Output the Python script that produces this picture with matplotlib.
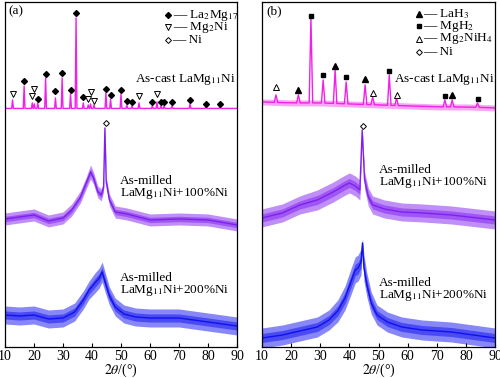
import numpy as np
import matplotlib
matplotlib.use("Agg")
import matplotlib.pyplot as plt

plt.rcParams['font.family'] = ['Liberation Serif', 'DejaVu Serif']
plt.rcParams['mathtext.fontset'] = 'stix'

# ---------------- data (intensity in arbitrary offset units) ----------------
# Panel (a) as-cast: peak positions and peak-top intensities
a_cast_base = 238.5
a_cast_pos = [12.6, 16.6, 19.4, 20.1, 21.3, 24.0, 27.4, 29.7, 32.6, 34.5, 37.0, 38.7, 39.5,
              40.7, 44.8, 46.4, 50.0, 52.0, 53.8, 56.2, 60.8, 62.4, 63.8, 64.9, 67.6, 73.8,
              79.3, 84.1]
a_cast_top = [247, 261, 244, 243, 244, 269, 249, 269, 253, 329, 244, 242, 243,
              242, 254, 248, 253, 242, 241, 244, 241, 245, 241, 241, 241, 243,
              240.5, 240.5]

# Panel (a) phase markers
a_la2mg17_x = [16.6, 21.3, 24.0, 27.4, 29.7, 32.6, 34.5, 37.0, 44.8, 46.4, 50.0, 52.0, 53.8,
               60.8, 63.8, 64.9, 67.6, 73.8, 79.3, 84.1]
a_la2mg17_y = [266, 248, 273, 256, 274, 257, 334, 250, 258, 252, 257, 246, 245,
               245, 245, 245, 245, 247, 243, 243]
a_mg2ni_x = [12.6, 19.4, 20.1, 38.7, 39.5, 40.7, 56.2, 62.4]
a_mg2ni_y = [253, 251, 258, 248, 255, 246, 251, 253]
a_ni_x = [44.7]
a_ni_y = [224]

# Panel (a) milled +100% Ni: centre line and half-width of noise band
a100_x = [10, 15, 20, 25, 30, 33, 36, 38, 39.5, 40.5, 42, 43.2, 44.0, 44.45, 44.9, 46, 48, 52, 60, 70, 80, 90]
a100_y = [128, 130, 132, 126, 129, 137, 150, 164, 175, 169, 155, 152, 160, 219, 165, 147, 135, 133, 127, 128, 127, 122]
a100_hw = [6, 6, 6, 6, 6, 6, 6, 6, 7, 6, 6, 6, 5, 2, 5, 6, 6, 6, 6, 6, 6, 6]

# Panel (a) milled +200% Ni
a200_x = [10, 15, 20, 25, 30, 34, 37, 39, 41, 42.5, 43.5, 44.5, 46, 48, 51, 55, 60, 70, 80, 90]
a200_y = [32, 31, 32, 28, 29, 35, 47, 57, 64, 69, 75, 65, 51, 40, 33, 30, 29, 29, 25, 21]
a200_hw = [9, 9, 9, 9, 9, 9, 9, 9, 10, 10, 10, 10, 9, 9, 9, 9, 9, 9, 9, 9]

# Panel (b) as-cast (hydrided)
b_base_x = [10, 20, 30, 40, 50, 60, 70, 80, 90]
b_base_y = [245, 244, 244, 243, 242, 241, 240, 240, 239]
b_cast_pos = [14.8, 22.5, 26.8, 31.0, 35.1, 38.9, 45.4, 48.0, 53.7, 56.2, 72.8, 75.3, 84.0]
b_cast_top = [252, 252, 329, 267, 277, 265, 262, 250, 272, 249, 247, 247, 244]

b_lah3_x = [22.5, 35.1, 45.4, 75.3]
b_lah3_y = [257, 281, 268, 252]
b_mgh2_x = [26.8, 31.0, 38.9, 53.7, 72.8, 84.0]
b_mgh2_y = [331, 272, 270, 276, 251, 248]
b_mg2nih4_x = [14.8, 48.0, 56.2]
b_mg2nih4_y = [260, 254, 252]
b_ni_x = [44.7]
b_ni_y = [221]

# Panel (b) milled +100% Ni
b100_x = [10, 17, 23, 29, 34.5, 38, 40, 42, 43.6, 44.4, 45.2, 46.5, 48, 52, 58, 65, 75, 90]
b100_y = [129, 134, 142, 147, 155, 161, 164, 161, 157, 217, 167, 150, 142, 138, 135, 134, 132, 127]
b100_hw = [9, 9, 9, 10, 10, 10, 10, 10, 10, 3, 9, 9, 9, 9, 9, 9, 9, 9]

# Panel (b) milled +200% Ni
b200_x = [10, 17, 23, 29, 33, 36, 38.5, 40.5, 42, 43, 44, 44.5, 45, 46, 47.5, 49.5, 53, 58, 65, 75, 90]
b200_y = [9, 12, 16, 20, 27, 36, 49, 65, 77, 79, 85, 104, 79, 62, 44, 32, 25, 20, 17, 15, 9]
b200_hw = [10, 10, 10, 10, 10, 11, 12, 13, 13, 13, 13, 4, 13, 12, 11, 10, 10, 10, 10, 10, 10]

xticks = [10, 20, 30, 40, 50, 60, 70, 80, 90]

C_CAST = '#f020e8'
C_100 = '#8020f0'
C_200 = '#1010f0'
FS = 9.5


def peak_line(pos, top, base_x, base_y, w):
    xs, ys = [base_x[0]], [np.interp(base_x[0], base_x, base_y)]
    for p, t in sorted(zip(pos, top)):
        for xx, yy in ((p - w, None), (p, t), (p + w, None)):
            xs.append(xx)
            ys.append(np.interp(xx, base_x, base_y) if yy is None else yy)
    xs.append(base_x[-1])
    ys.append(np.interp(base_x[-1], base_x, base_y))
    return xs, ys


def band(ax, x, y, hw, color):
    x = np.array(x, float); y = np.array(y, float); hw = np.array(hw, float)
    ax.fill_between(x, y - hw, y + hw, color=color, alpha=0.5, lw=0)
    ax.fill_between(x, y - hw * 0.45, y + hw * 0.45, color=color, alpha=0.5, lw=0)
    ax.plot(x, y, color=color, lw=1.0)


fig = plt.figure(figsize=(5.0, 3.78), dpi=100)
axa = fig.add_axes([0.010, 0.082, 0.464, 0.913])
axb = fig.add_axes([0.524, 0.082, 0.466, 0.913])

for ax in (axa, axb):
    ax.set_xlim(10, 90)
    ax.set_ylim(0, 345)
    ax.set_yticks([])
    ax.set_xticks(xticks)
    ax.tick_params(axis='x', direction='in', length=3, labelsize=10, pad=2)
    for s in ax.spines.values():
        s.set_linewidth(0.9)
    ax.set_xlabel(r'$2\theta$/(°)', fontsize=10, labelpad=-1)

# ---- panel (a)
xs, ys = peak_line(a_cast_pos, a_cast_top, [10, 90], [a_cast_base, a_cast_base], 0.3)
axa.plot(xs, ys, color=C_CAST, lw=1.0)
band(axa, a100_x, a100_y, a100_hw, C_100)
band(axa, a200_x, a200_y, a200_hw, C_200)
axa.plot(a_la2mg17_x, a_la2mg17_y, 'D', ms=3, color='black', ls='none')
axa.plot(a_mg2ni_x, a_mg2ni_y, 'v', ms=4, mfc='white', mec='black', mew=0.7, ls='none')
axa.plot(a_ni_x, a_ni_y, 'D', ms=3, mfc='white', mec='black', mew=0.7, ls='none')

tr = axa.transAxes
axa.text(0.015, 0.972, '(a)', transform=tr, fontsize=FS, va='center')
axa.plot([0.703], [0.962], 'D', ms=3, color='black', transform=tr)
axa.plot([0.703], [0.926], 'v', ms=4, mfc='white', mec='black', mew=0.7, transform=tr)
axa.plot([0.703], [0.890], 'D', ms=3, mfc='white', mec='black', mew=0.7, transform=tr)
axa.text(0.722, 0.962, '— La$_2$Mg$_{17}$', transform=tr, fontsize=FS, va='center')
axa.text(0.722, 0.926, '— Mg$_2$Ni', transform=tr, fontsize=FS, va='center')
axa.text(0.722, 0.890, '— Ni', transform=tr, fontsize=FS, va='center')

axa.text(54.8, 267, 'As-cast LaMg$_{11}$Ni', fontsize=FS, va='center')
axa.text(49.7, 166, 'As-milled', fontsize=FS, va='center')
axa.text(49.7, 153, 'LaMg$_{11}$Ni+100%Ni', fontsize=FS, va='center')
axa.text(49.7, 69, 'As-milled', fontsize=FS, va='center')
axa.text(49.7, 56, 'LaMg$_{11}$Ni+200%Ni', fontsize=FS, va='center')

# ---- panel (b)
xs, ys = peak_line(b_cast_pos, b_cast_top, b_base_x, b_base_y, 0.6)
axb.plot(xs, ys, color=C_CAST, lw=1.0)
bx = np.array(b_base_x, float)
by = np.array(b_base_y, float)
axb.fill_between(bx, by - 3, by + 3, color=C_CAST, alpha=0.4, lw=0)
band(axb, b100_x, b100_y, b100_hw, C_100)
band(axb, b200_x, b200_y, b200_hw, C_200)
axb.plot(b_lah3_x, b_lah3_y, '^', ms=4, color='black', ls='none')
axb.plot(b_mgh2_x, b_mgh2_y, 's', ms=3.5, color='black', ls='none')
axb.plot(b_mg2nih4_x, b_mg2nih4_y, '^', ms=4, mfc='white', mec='black', mew=0.7, ls='none')
axb.plot(b_ni_x, b_ni_y, 'D', ms=3, mfc='white', mec='black', mew=0.7, ls='none')

tr = axb.transAxes
axb.text(0.017, 0.972, '(b)', transform=tr, fontsize=FS, va='center')
axb.plot([0.674], [0.965], '^', ms=4, color='black', transform=tr)
axb.plot([0.674], [0.930], 's', ms=3.5, color='black', transform=tr)
axb.plot([0.674], [0.893], '^', ms=4, mfc='white', mec='black', mew=0.7, transform=tr)
axb.plot([0.674], [0.855], 'D', ms=3, mfc='white', mec='black', mew=0.7, transform=tr)
axb.text(0.692, 0.965, '— LaH$_3$', transform=tr, fontsize=FS, va='center')
axb.text(0.692, 0.930, '— MgH$_2$', transform=tr, fontsize=FS, va='center')
axb.text(0.692, 0.893, '— Mg$_2$NiH$_4$', transform=tr, fontsize=FS, va='center')
axb.text(0.692, 0.855, '— Ni', transform=tr, fontsize=FS, va='center')

axb.text(55.3, 267, 'As-cast LaMg$_{11}$Ni', fontsize=FS, va='center')
axb.text(50.2, 177, 'As-milled', fontsize=FS, va='center')
axb.text(50.2, 164, 'LaMg$_{11}$Ni+100%Ni', fontsize=FS, va='center')
axb.text(50.2, 64, 'As-milled', fontsize=FS, va='center')
axb.text(50.2, 51, 'LaMg$_{11}$Ni+200%Ni', fontsize=FS, va='center')

fig.savefig('out.png', dpi=100)
